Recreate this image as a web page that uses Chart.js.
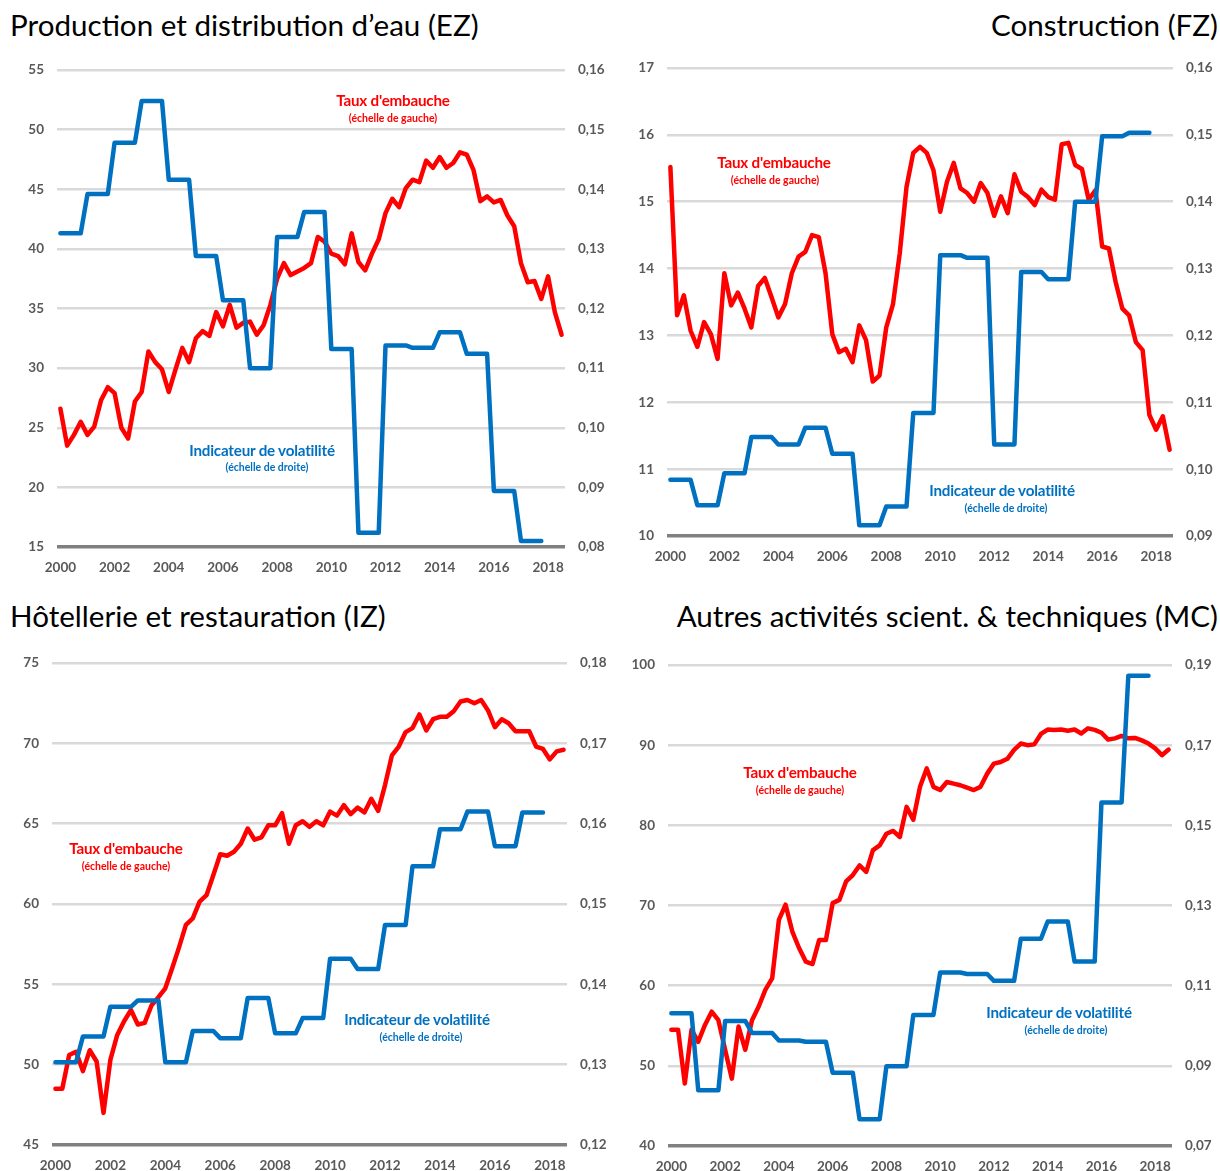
<!DOCTYPE html>
<html>
<head>
<meta charset="utf-8">
<script src="https://cdn.jsdelivr.net/npm/chart.js@4.4.1/dist/chart.umd.min.js"></script>
<style>
  body { margin: 0; background: #fff; width: 1220px; height: 1171px; position: relative; overflow: hidden; font-family: Lato, "Open Sans", sans-serif; }
  canvas { position: absolute; }
  .title { position: absolute; font-size: 29.6px; color: #000; white-space: nowrap; line-height: 1; }
  .note { position: absolute; transform: translate(-50%, -50%); font-weight: bold; white-space: nowrap; line-height: 1; }
  .red { color: #ff0000; }
  .blue { color: #0070c0; }
  .big { font-size: 15.2px; letter-spacing: -0.2px; }
  .small { font-size: 10.5px; }
</style>
</head>
<body>

<div class="title" style="left:10px; top:10px;">Production et distribution d’eau (EZ)</div>
<div class="title" style="right:2px; top:10px;">Construction (FZ)</div>
<div class="title" style="left:10px; top:601px;">Hôtellerie et restauration (IZ)</div>
<div class="title" style="right:2px; top:601px;">Autres activités scient. &amp; techniques (MC)</div>

<canvas id="ez" width="615" height="540" style="left:0; top:45px;"></canvas>
<canvas id="fz" width="605" height="530" style="left:615px; top:45px;"></canvas>
<canvas id="iz" width="615" height="540" style="left:0; top:640px;"></canvas>
<canvas id="mc" width="605" height="540" style="left:615px; top:640px;"></canvas>

<div class="note red big" style="left:393px; top:101px;">Taux d'embauche</div>
<div class="note red small" style="left:393px; top:118px;">(échelle de gauche)</div>
<div class="note blue big" style="left:262px; top:451px;">Indicateur de volatilité</div>
<div class="note blue small" style="left:267px; top:467px;">(échelle de droite)</div>

<div class="note red big" style="left:774px; top:163px;">Taux d'embauche</div>
<div class="note red small" style="left:775px; top:180px;">(échelle de gauche)</div>
<div class="note blue big" style="left:1002px; top:491px;">Indicateur de volatilité</div>
<div class="note blue small" style="left:1006px; top:508px;">(échelle de droite)</div>

<div class="note red big" style="left:126px; top:849px;">Taux d'embauche</div>
<div class="note red small" style="left:126px; top:866px;">(échelle de gauche)</div>
<div class="note blue big" style="left:417px; top:1020px;">Indicateur de volatilité</div>
<div class="note blue small" style="left:421px; top:1037px;">(échelle de droite)</div>

<div class="note red big" style="left:800px; top:773px;">Taux d'embauche</div>
<div class="note red small" style="left:800px; top:790px;">(échelle de gauche)</div>
<div class="note blue big" style="left:1059px; top:1013px;">Indicateur de volatilité</div>
<div class="note blue small" style="left:1066px; top:1030px;">(échelle de droite)</div>

<script>
// quarterly categories 2000T1 .. 2018T3
const quarters = []
for (let y = 2000; y <= 2018; y++) for (let q = 1; q <= 4; q++) quarters.push(y + 'T' + q)
quarters.length = 75

const yearTicks = ['2000', '2002', '2004', '2006', '2008', '2010', '2012', '2014', '2016', '2018']

// taux d'embauche (left scale), one value per quarter
const hireEZ = [26.6, 23.5, 24.4, 25.5, 24.4, 25.1, 27.3, 28.4, 27.9, 25.0, 24.1, 27.2, 28.0, 31.4, 30.5, 29.9, 28.0, 29.9, 31.7, 30.5,
  32.5, 33.1, 32.7, 34.7, 33.5, 35.3, 33.4, 33.8, 33.9, 32.8, 33.6, 35.3, 37.5, 38.8, 37.8, 38.1, 38.4, 38.8, 41.0, 40.6,
  39.6, 39.4, 38.7, 41.3, 38.9, 38.2, 39.6, 40.8, 43.0, 44.2, 43.5, 45.1, 45.8, 45.6, 47.4, 46.8, 47.7, 46.8, 47.2, 48.1,
  47.9, 46.6, 44.0, 44.4, 43.9, 44.1, 42.8, 41.9, 38.8, 37.2, 37.3, 35.8, 37.7, 34.7, 32.8]

const hireFZ = [15.52, 13.3, 13.6, 13.07, 12.83, 13.2, 13.02, 12.65, 13.93, 13.45, 13.64, 13.4, 13.12, 13.74, 13.86, 13.57, 13.27, 13.47, 13.93, 14.18,
  14.25, 14.5, 14.47, 13.93, 13.02, 12.75, 12.8, 12.6, 13.15, 12.93, 12.31, 12.4, 13.12, 13.47, 14.23, 15.22, 15.73, 15.82, 15.73, 15.47,
  14.85, 15.3, 15.58, 15.2, 15.13, 15.0, 15.28, 15.13, 14.79, 15.08, 14.83, 15.41, 15.15, 15.07, 14.95, 15.18, 15.07, 15.03, 15.86, 15.88,
  15.55, 15.49, 15.03, 15.17, 14.33, 14.3, 13.8, 13.4, 13.3, 12.9, 12.78, 11.81, 11.59, 11.79, 11.29]

const hireIZ = [48.5, 48.5, 50.6, 50.8, 49.6, 50.9, 50.2, 47.0, 50.3, 51.85, 52.7, 53.4, 52.5, 52.6, 53.7, 54.2, 54.75, 56.0, 57.3, 58.7,
  59.1, 60.15, 60.55, 61.8, 63.1, 63.0, 63.25, 63.75, 64.7, 64.0, 64.15, 64.9, 64.9, 65.65, 63.75, 64.9, 65.15, 64.8, 65.15, 64.9,
  65.75, 65.5, 66.15, 65.6, 66.0, 65.7, 66.55, 65.8, 67.4, 69.25, 69.8, 70.7, 70.95, 71.8, 70.8, 71.5, 71.65, 71.65, 72.0, 72.6,
  72.7, 72.5, 72.7, 72.05, 71.0, 71.5, 71.25, 70.75, 70.75, 70.75, 69.8, 69.65, 69.0, 69.5, 69.6]

const hireMC = [54.5, 54.5, 47.8, 54.5, 53.0, 55.1, 56.75, 55.7, 52.0, 48.4, 54.9, 52.0, 55.7, 57.4, 59.5, 60.9, 68.2, 70.1, 66.75, 64.7,
  63.0, 62.7, 65.7, 65.7, 70.3, 70.7, 73.0, 73.8, 75.0, 74.2, 76.9, 77.5, 78.95, 79.3, 78.55, 82.3, 80.7, 84.8, 87.1, 84.8,
  84.4, 85.4, 85.2, 85.0, 84.7, 84.4, 84.8, 86.45, 87.7, 87.9, 88.3, 89.4, 90.2, 90.0, 90.1, 91.4, 91.95, 91.9, 91.95, 91.8,
  91.95, 91.45, 92.1, 91.9, 91.55, 90.7, 90.85, 91.15, 90.85, 90.9, 90.6, 90.2, 89.6, 88.75, 89.45]

// indicateur de volatilite (right scale), one value per year 2000..2017
const volEZ = [0.1326, 0.1392, 0.1478, 0.1548, 0.1416, 0.1288, 0.1214, 0.1100, 0.1320, 0.1362, 0.1132, 0.0824, 0.1138, 0.1134, 0.1160, 0.1124, 0.0894, 0.0810]
const volFZ = [0.0984, 0.0946, 0.0994, 0.1048, 0.1037, 0.1062, 0.1023, 0.0916, 0.0944, 0.1084, 0.1320, 0.1316, 0.1037, 0.1295, 0.1284, 0.1400, 0.1498, 0.1503]
const volIZ = [0.1303, 0.1335, 0.1372, 0.1380, 0.1303, 0.1342, 0.1333, 0.1383, 0.1339, 0.1358, 0.1432, 0.1419, 0.1474, 0.1547, 0.1593, 0.1615, 0.1572, 0.1614]
const volMC = [0.1031, 0.0839, 0.1012, 0.0982, 0.0963, 0.0960, 0.0883, 0.0767, 0.0899, 0.1027, 0.1133, 0.1129, 0.1112, 0.1217, 0.1260, 0.1160, 0.1557, 0.1873]

const RED = '#ff0000'
const BLUE = '#0070c0'
const TXT = '#595959'
const FONT = 'Lato, "Open Sans", sans-serif'

// yearly value held over its four quarters
function quarterly(yearly) {
    return yearly.flatMap(v => [v, v, v, v])
}

function comma(v) {
    return v.toFixed(2).replace('.', ',')
}

function makePanel(id, box, area, hire, vol, left, right) {
    let ctx = document.getElementById(id).getContext('2d')
    new Chart(ctx, {
        type: 'line',
        data: {
            labels: quarters,
            datasets: [{
                label: 'Indicateur de volatilité',
                data: quarterly(vol),
                yAxisID: 'y1',
                borderColor: BLUE,
                borderWidth: 4.5,
                pointRadius: 0,
                tension: 0,
                borderCapStyle: 'round',
                borderJoinStyle: 'round'
            }, {
                label: "Taux d'embauche",
                data: hire,
                yAxisID: 'y',
                borderColor: RED,
                borderWidth: 4.5,
                pointRadius: 0,
                tension: 0,
                borderCapStyle: 'round',
                borderJoinStyle: 'round'
            }]
        },
        options: {
            responsive: false,
            animation: false,
            devicePixelRatio: 1,
            layout: { padding: { top: area.t - box.top, left: 0, right: 0, bottom: 0 } },
            plugins: { legend: { display: false }, tooltip: { enabled: false } },
            scales: {
                x: {
                    type: 'category',
                    offset: true,
                    grid: { display: false },
                    border: { display: false },
                    ticks: {
                        autoSkip: false,
                        maxRotation: 0,
                        padding: 5,
                        color: TXT,
                        font: { family: FONT, size: 13.5, weight: 'bold' },
                        callback: (v, i) => i % 8 === 0 ? yearTicks[i / 8] : ''
                    },
                    afterFit: s => { s.height = box.top + box.height - area.b }
                },
                y: {
                    position: 'left',
                    min: left.min, max: left.max,
                    grid: {
                        drawTicks: false,
                        color: c => c.index === 0 ? '#808080' : '#d9d9d9',
                        lineWidth: c => c.index === 0 ? 3.5 : 2.5
                    },
                    border: { display: false },
                    ticks: {
                        stepSize: left.step,
                        padding: 13,
                        color: TXT,
                        font: { family: FONT, size: 13.5, weight: 'bold' }
                    },
                    afterFit: s => { s.width = area.l - box.left }
                },
                y1: {
                    position: 'right',
                    min: right.min, max: right.max,
                    grid: { display: false, drawTicks: false },
                    border: { display: false },
                    ticks: {
                        stepSize: right.step,
                        padding: 13,
                        color: TXT,
                        font: { family: FONT, size: 13.5, weight: 'bold' },
                        callback: v => comma(v)
                    },
                    afterFit: s => { s.width = box.left + box.width - area.r }
                }
            }
        }
    })
}

makePanel('ez', {left: 0, top: 45, width: 615, height: 540}, {l: 57, r: 565, t: 70, b: 547},
    hireEZ, volEZ, {min: 15, max: 55, step: 5}, {min: 0.08, max: 0.16, step: 0.01})
makePanel('fz', {left: 615, top: 45, width: 605, height: 530}, {l: 667, r: 1173, t: 68, b: 536},
    hireFZ, volFZ, {min: 10, max: 17, step: 1}, {min: 0.09, max: 0.16, step: 0.01})
makePanel('iz', {left: 0, top: 640, width: 615, height: 540}, {l: 52, r: 567, t: 663, b: 1145},
    hireIZ, volIZ, {min: 45, max: 75, step: 5}, {min: 0.12, max: 0.18, step: 0.01})
makePanel('mc', {left: 615, top: 640, width: 605, height: 540}, {l: 668, r: 1172, t: 665, b: 1146},
    hireMC, volMC, {min: 40, max: 100, step: 10}, {min: 0.07, max: 0.19, step: 0.02})
</script>
</body>
</html>
